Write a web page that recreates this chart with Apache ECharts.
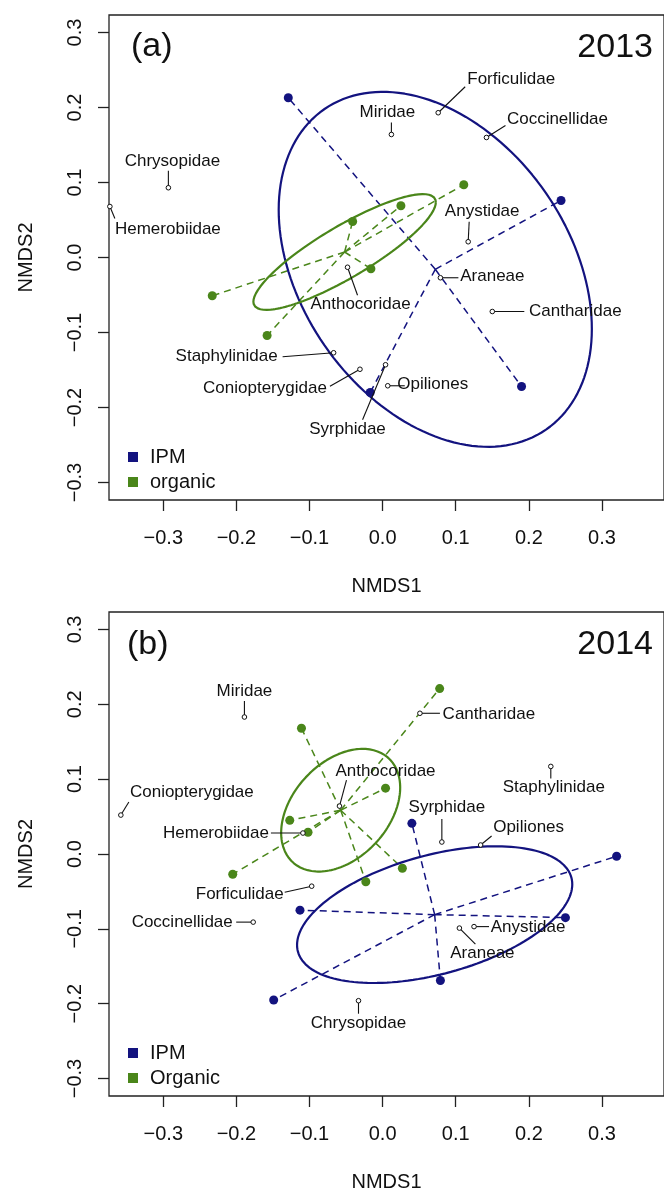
<!DOCTYPE html>
<html><head><meta charset="utf-8">
<script src="https://cdn.jsdelivr.net/npm/echarts@6/dist/echarts.min.js"></script>
<style>html,body{margin:0;padding:0;background:#fff}#c{width:664px;height:1193px}</style>
</head><body><div id="c"></div>
<script>
// ---------- data ----------
const xTicks = [-0.3, -0.2, -0.1, 0, 0.1, 0.2, 0.3];
const yTicks = [-0.3, -0.2, -0.1, 0, 0.1, 0.2, 0.3];
const years = ['2013', '2014'];
const panelTags = ['(a)', '(b)'];
const groupNames2013 = ['IPM', 'organic'];
const groupNames2014 = ['IPM', 'Organic'];

// site scores (NMDS1, NMDS2)
const ipm2013 = [[-0.129, 0.213], [0.244, 0.076], [0.190, -0.172], [-0.017, -0.180]];
const org2013 = [[0.111, 0.097], [0.025, 0.069], [-0.041, 0.048], [-0.016, -0.015], [-0.233, -0.051], [-0.158, -0.104]];
const ipm2014 = [[0.040, 0.041], [0.320, -0.003], [0.250, -0.085], [0.079, -0.169], [-0.113, -0.075], [-0.149, -0.195]];
const org2014 = [[0.078, 0.221], [-0.111, 0.168], [0.004, 0.088], [-0.127, 0.045], [-0.102, 0.029], [-0.205, -0.027], [-0.023, -0.037], [0.027, -0.019]];

// species scores
const species2013 = ['Chrysopidae', 'Hemerobiidae', 'Forficulidae', 'Miridae', 'Coccinellidae', 'Anystidae', 'Araneae', 'Cantharidae', 'Opiliones', 'Syrphidae', 'Staphylinidae', 'Coniopterygidae', 'Anthocoridae'];
const speciesPts2013 = [[-0.293, 0.093], [-0.373, 0.068], [0.076, 0.193], [0.012, 0.164], [0.142, 0.160], [0.117, 0.021], [0.079, -0.027], [0.150, -0.072], [0.007, -0.171], [0.004, -0.143], [-0.067, -0.127], [-0.031, -0.149], [-0.048, -0.013]];
const species2014 = ['Miridae', 'Coniopterygidae', 'Hemerobiidae', 'Anthocoridae', 'Cantharidae', 'Staphylinidae', 'Syrphidae', 'Opiliones', 'Forficulidae', 'Coccinellidae', 'Anystidae', 'Araneae', 'Chrysopidae'];
const speciesPts2014 = [[-0.189, 0.183], [-0.358, 0.052], [-0.109, 0.028], [-0.059, 0.064], [0.051, 0.188], [0.230, 0.117], [0.081, 0.016], [0.134, 0.012], [-0.097, -0.043], [-0.177, -0.091], [0.125, -0.097], [0.105, -0.099], [-0.033, -0.196]];

// ---------- label layout (pixel offsets from each species point) ----------
const labelOff2013 = [[4, -26], [58, 23], [73, -33], [-4, -22], [71, -18], [14, -30], [52, -1], [83, 0], [45, -1], [-38, 65], [-107, 4], [-95, 19], [13, 37]];
const leadOff2013 = [[0, -17], [5, 12], [27, -26], [0, -12], [19, -12], [1, -20], [18, 0], [32, 0], [17, 0], [-23, 55], [-51, 4], [-30, 17], [10, 28]];
const labelOff2014 = [[0, -26], [71, -23], [-87, 0], [46, -35], [69, 1], [3, 21], [5, -35], [48, -18], [-72, 8], [-71, 0], [54, 1], [23, 25], [0, 23]];
const leadOff2014 = [[0, -16], [8, -13], [-32, 0], [7, -26], [20, 0], [0, 12], [0, -23], [11, -9], [-27, 6], [-17, 0], [15, 0], [16, 16], [0, 13]];

// ---------- style ----------
const BLUE = '#13137f';
const GREEN = '#4a861a';
const INK = '#111';
const FONT = 'Liberation Sans';

function centroid(pts) {
  let sx = 0, sy = 0;
  pts.forEach(p => { sx += p[0]; sy += p[1]; });
  return [sx / pts.length, sy / pts.length];
}
// ordiellipse(kind = "se", conf = 0.95)
function ellipse(pts) {
  const n = pts.length, c = centroid(pts);
  let sxx = 0, syy = 0, sxy = 0;
  pts.forEach(p => { const dx = p[0] - c[0], dy = p[1] - c[1]; sxx += dx * dx; syy += dy * dy; sxy += dx * dy; });
  sxx /= (n - 1); syy /= (n - 1); sxy /= (n - 1);
  const k = Math.sqrt(5.991465) / Math.sqrt(n);
  const l11 = Math.sqrt(sxx), l21 = sxy / l11, l22 = Math.sqrt(syy - l21 * l21);
  const out = [];
  for (let i = 0; i <= 160; i++) {
    const t = 2 * Math.PI * i / 160, ct = Math.cos(t), st = Math.sin(t);
    out.push([c[0] + k * l11 * ct, c[1] + k * (l21 * ct + l22 * st)]);
  }
  return out;
}

function groupSeries(idx, name, pts, color) {
  const c = centroid(pts);
  return [
    { type: 'custom', xAxisIndex: idx, yAxisIndex: idx, silent: true, z: 2,
      data: pts,
      renderItem: (params, api) => {
        const p = api.coord([api.value(0), api.value(1)]);
        const q = api.coord(c);
        return { type: 'line', shape: { x1: q[0], y1: q[1], x2: p[0], y2: p[1] },
          style: { stroke: color, lineWidth: 1.5, lineDash: [7, 5] } };
      } },
    { type: 'line', xAxisIndex: idx, yAxisIndex: idx, silent: true, z: 3,
      data: ellipse(pts), showSymbol: false, symbol: 'none', smooth: false,
      lineStyle: { color: color, width: 2.2, opacity: 1 }, itemStyle: { color: color } },
    { type: 'scatter', name: name, xAxisIndex: idx, yAxisIndex: idx, z: 4,
      data: pts, symbol: 'circle', symbolSize: 9, itemStyle: { color: color, opacity: 1 } }
  ];
}

function speciesSeries(idx, names, pts, lab, lead) {
  return { type: 'custom', xAxisIndex: idx, yAxisIndex: idx, silent: true, z: 6,
    data: pts.map((p, j) => [p[0], p[1], j]),
    renderItem: (params, api) => {
      const j = api.value(2);
      const c = api.coord([api.value(0), api.value(1)]);
      return { type: 'group', children: [
        { type: 'line', shape: { x1: c[0], y1: c[1], x2: c[0] + lead[j][0], y2: c[1] + lead[j][1] },
          style: { stroke: INK, lineWidth: 1.1 } },
        { type: 'circle', shape: { cx: c[0], cy: c[1], r: 2.3 },
          style: { fill: '#fff', stroke: INK, lineWidth: 1 } },
        { type: 'text', x: c[0] + lab[j][0], y: c[1] + lab[j][1],
          style: { text: names[j], align: 'center', verticalAlign: 'middle',
            fontSize: 17, fontFamily: FONT, fill: INK } }
      ] };
    } };
}

const fmt = v => { const r = Math.round(v * 10) / 10; return (r < 0 ? '\u2212' : '') + Math.abs(r).toFixed(1); };
const gridTops = [15, 612];

const option = {
  animation: false,
  backgroundColor: '#fff',
  textStyle: { fontFamily: FONT },
  grid: gridTops.map(t => ({ left: 109, top: t, width: 570, height: 485, show: true,
    borderColor: '#222', borderWidth: 1.3, backgroundColor: 'transparent' })),
  xAxis: [0, 1].map(i => ({ type: 'value', gridIndex: i, min: -0.3742, max: 0.3848, position: 'bottom',
    axisLine: { show: false, onZero: false }, splitLine: { show: false },
    axisTick: { show: true, inside: false, length: 11, lineStyle: { color: '#222', width: 1.3 }, customValues: xTicks },
    axisLabel: { customValues: xTicks, formatter: fmt, fontSize: 20, color: INK, margin: 28, fontFamily: FONT },
    name: 'NMDS1', nameLocation: 'middle', nameGap: 76,
    nameTextStyle: { fontSize: 20, color: INK, fontFamily: FONT } })),
  yAxis: [0, 1].map(i => ({ type: 'value', gridIndex: i, min: -0.3233, max: 0.3233, position: 'left',
    axisLine: { show: false, onZero: false }, splitLine: { show: false },
    axisTick: { show: true, inside: false, length: 11, lineStyle: { color: '#222', width: 1.3 }, customValues: yTicks },
    axisLabel: { customValues: yTicks, formatter: fmt, fontSize: 20, color: INK, margin: 24, rotate: 90, fontFamily: FONT },
    name: 'NMDS2', nameLocation: 'middle', nameGap: 73,
    nameTextStyle: { fontSize: 20, color: INK, fontFamily: FONT } })),
  legend: [
    { data: groupNames2013.map(n => ({ name: n, icon: 'rect', itemStyle: { color: n === 'IPM' ? BLUE : GREEN, opacity: 1 } })),
      orient: 'vertical', left: 123, top: 442,
      itemWidth: 10, itemHeight: 10, itemGap: 5, selectedMode: false,
      textStyle: { fontSize: 20, color: INK, lineHeight: 20, padding: [0, 0, 0, 7], fontFamily: FONT } },
    { data: groupNames2014.map(n => ({ name: n, icon: 'rect', itemStyle: { color: n === 'IPM' ? BLUE : GREEN, opacity: 1 } })),
      orient: 'vertical', left: 123, top: 1038,
      itemWidth: 10, itemHeight: 10, itemGap: 5, selectedMode: false,
      textStyle: { fontSize: 20, color: INK, lineHeight: 20, padding: [0, 0, 0, 7], fontFamily: FONT } }
  ],
  graphic: [
    { type: 'text', x: 131, y: 47, style: { text: panelTags[0], fontSize: 34, fontFamily: FONT, fill: INK, align: 'left', verticalAlign: 'middle' } },
    { type: 'text', x: 653, y: 48, style: { text: years[0], fontSize: 34, fontFamily: FONT, fill: INK, align: 'right', verticalAlign: 'middle' } },
    { type: 'text', x: 127, y: 645, style: { text: panelTags[1], fontSize: 34, fontFamily: FONT, fill: INK, align: 'left', verticalAlign: 'middle' } },
    { type: 'text', x: 653, y: 645, style: { text: years[1], fontSize: 34, fontFamily: FONT, fill: INK, align: 'right', verticalAlign: 'middle' } }
  ],
  series: [
    ...groupSeries(0, groupNames2013[0], ipm2013, BLUE),
    ...groupSeries(0, groupNames2013[1], org2013, GREEN),
    speciesSeries(0, species2013, speciesPts2013, labelOff2013, leadOff2013),
    ...groupSeries(1, groupNames2014[0], ipm2014, BLUE),
    ...groupSeries(1, groupNames2014[1], org2014, GREEN),
    speciesSeries(1, species2014, speciesPts2014, labelOff2014, leadOff2014)
  ]
};
const chart = echarts.init(document.getElementById('c'), null, { renderer: 'canvas' });
chart.setOption(option);
</script>
</body></html>
